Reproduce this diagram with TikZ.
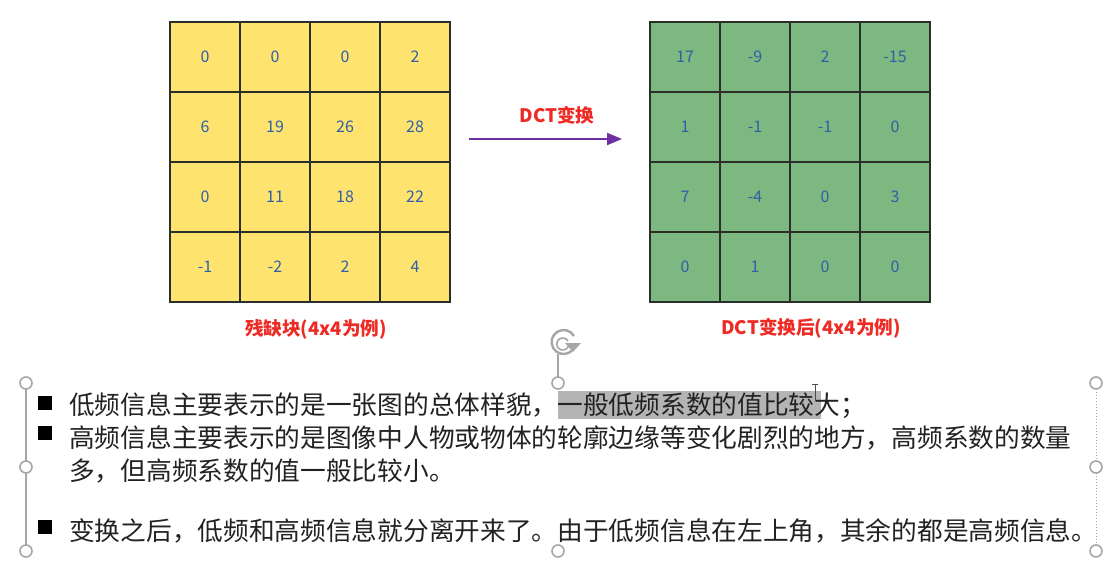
\documentclass[tikz,border=0pt]{standalone}
\usepackage{fontspec}
\setmainfont{Noto Sans CJK SC}
\usetikzlibrary{arrows.meta}
\definecolor{cellY}{HTML}{FFE36F}
\definecolor{cellG}{HTML}{7CB87F}
\definecolor{cellT}{HTML}{2F5FA8}
\definecolor{labR}{HTML}{EE2A24}
\definecolor{arrP}{HTML}{7030A0}
\definecolor{gridK}{HTML}{2A2F2A}
\definecolor{hand}{HTML}{A6A6A6}
\definecolor{hili}{HTML}{B4B4B4}
\definecolor{bodyT}{HTML}{222222}
\tikzset{
  cellbase/.style={draw=gridK,line width=1.8pt,minimum size=70pt,inner sep=0pt,text=cellT,font=\fontsize{16}{16}\selectfont},
  yelcell/.style={cellbase,fill=cellY},
  grncell/.style={cellbase,fill=cellG},
  redlab/.style={text=labR,font=\fontsize{18.6}{19}\selectfont\bfseries,inner sep=0pt},
  bodyline/.style={anchor=west,text=bodyT,inner sep=0pt,font=\fontsize{25.7}{26}\selectfont},
  bullet/.style={fill=black,minimum size=14pt,inner sep=0pt},
  handle/.style={circle,draw=hand,fill=white,line width=1.6pt,minimum size=12pt,inner sep=0pt},
}
\begin{document}
\begin{tikzpicture}[x=1pt,y=-1pt]
\useasboundingbox (0,0) rectangle (1110,571);
\fill[white] (0,0) rectangle (1110,571);
% left grid
\foreach \row/\vals in {0/{0,0,0,2},1/{6,19,26,28},2/{0,11,18,22},3/{-1,-2,2,4}}{
  \foreach \v [count=\c from 0] in \vals {
    \node[yelcell] (L\row\c) at ({205+70*\c},{57+70*\row}) {\v};
  }
}
% right grid
\foreach \row/\vals in {0/{17,-9,2,-15},1/{1,-1,-1,0},2/{7,-4,0,3},3/{0,1,0,0}}{
  \foreach \v [count=\c from 0] in \vals {
    \node[grncell] (R\row\c) at ({685+70*\c},{57+70*\row}) {\v};
  }
}
% arrow
\coordinate (arrA) at (469,139);
\coordinate (arrB) at (622,139);
\draw[arrP,line width=2pt,-{Triangle[length=15pt,width=12pt]}] (arrA) -- (arrB);
\node[redlab] (dct) at (557,115) {DCT变换};
\node[redlab] (capL) at (316,329) {残缺块(4x4为例)};
\node[redlab] (capR) at (811,328) {DCT变换后(4x4为例)};
% selection frame
\draw[hand,line width=1.3pt] (26,383) -- (26,551);
\draw[hand,line width=1pt,dotted] (1096,383) -- (1096,551);
\draw[hand,line width=1.2pt] (558,354) -- (558,383);
% highlight
\fill[hili] (558,391) rectangle (821,419);
% body text
\node[bullet] (b1) at (45,403) {};
\node[bullet] (b2) at (45,433) {};
\node[bullet] (b3) at (45,527) {};
\node[bodyline] (t1) at (69,406) {低频信息主要表示的是一张图的总体样貌，一般低频系数的值比较大；};
\node[bodyline] (t2) at (69,438) {高频信息主要表示的是图像中人物或物体的轮廓边缘等变化剧烈的地方，高频系数的数量};
\node[bodyline] (t3) at (69,471) {多，但高频系数的值一般比较小。};
\node[bodyline] (t4) at (69,531) {变换之后，低频和高频信息就分离开来了。由于低频信息在左上角，其余的都是高频信息。};
% handles
\foreach \n/\x/\y in {h1/26/383,h2/26/467,h3/26/551,h4/558/383,h5/558/551,h6/1096/383,h7/1096/467,h8/1096/551}{
  \node[handle] (\n) at (\x,\y) {};
}
% rotate icon
\draw[hand,line width=2.4pt] (574,336) arc[start angle=30,end angle=345,radius=12pt];
\draw[hand,line width=1.6pt] (568,341) arc[start angle=30,end angle=345,radius=6pt];
\fill[hand] (565,343) -- (581,343) -- (573,352) -- cycle;
% I-beam cursor
\draw[black!70,line width=1pt] (815,385) -- (815,401) (812,384) -- (818,384);
\end{tikzpicture}
\end{document}
